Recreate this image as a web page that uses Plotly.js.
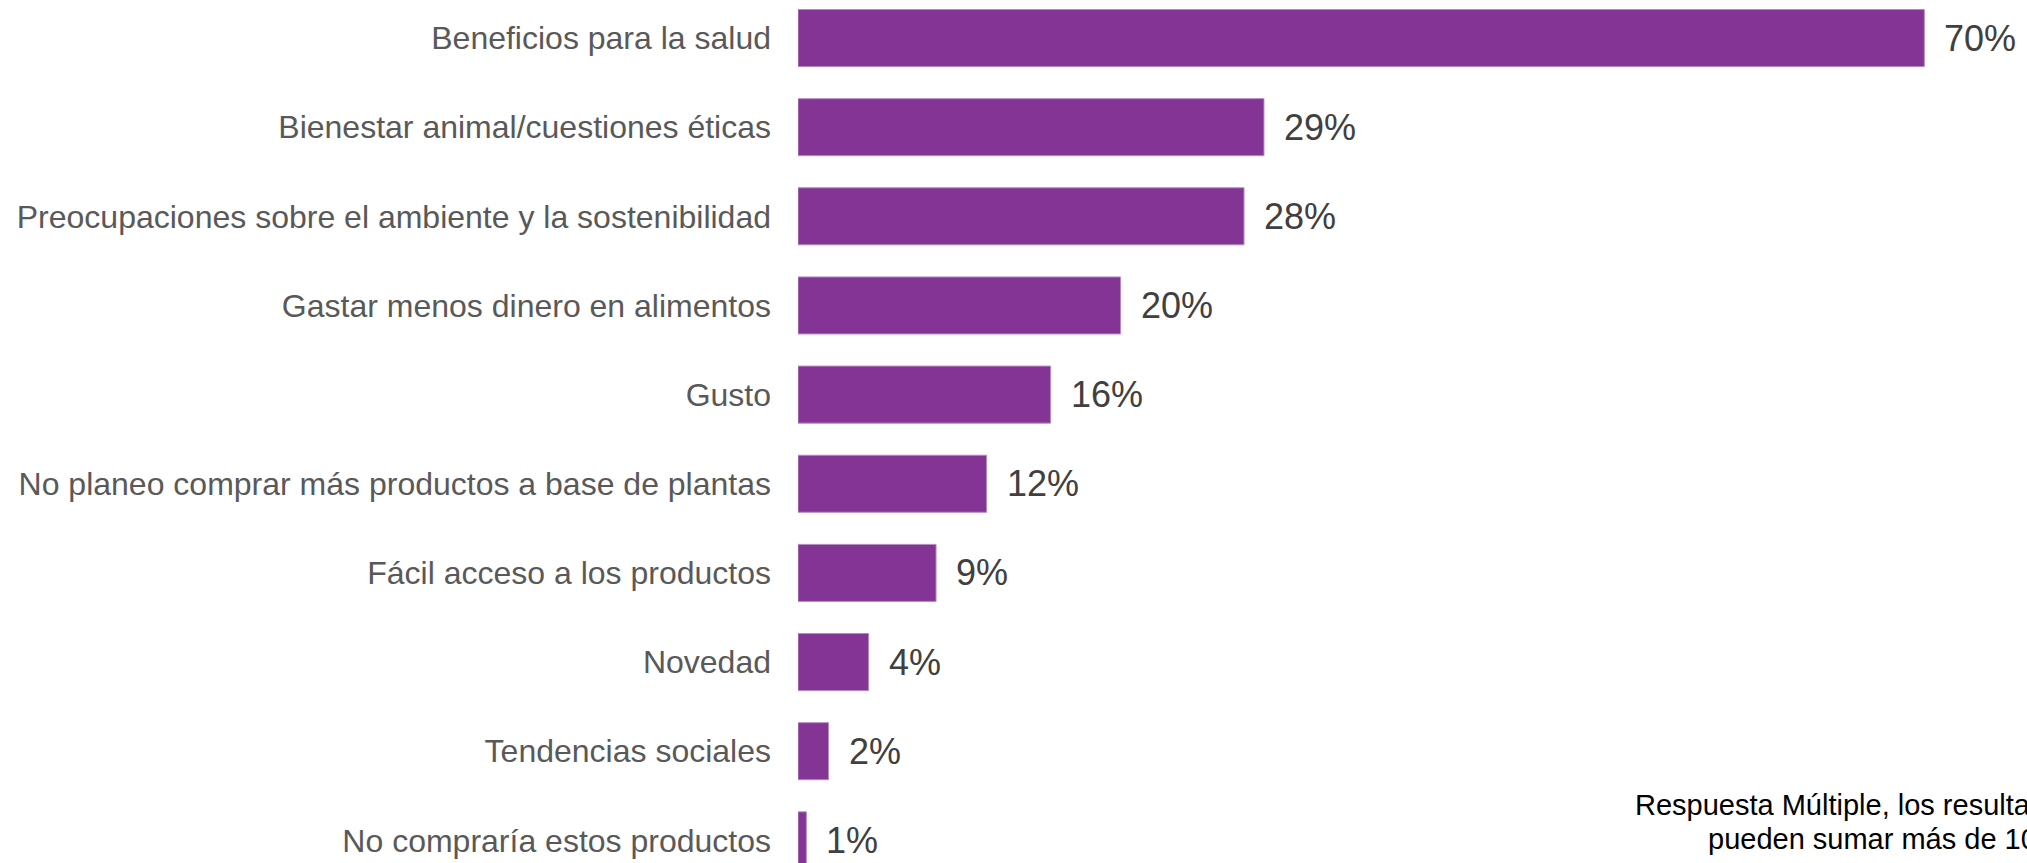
<!DOCTYPE html>
<html>
<head>
<meta charset="utf-8">
<script src="https://cdn.plot.ly/plotly-3.0.1.min.js"></script>
<style>
  html, body { margin: 0; padding: 0; background: #ffffff; }
  #chart { width: 2027px; height: 863px; }
</style>
</head>
<body>
<div id="chart"></div>
<script>
const categories = [
  "Beneficios para la salud",
  "Bienestar animal/cuestiones éticas",
  "Preocupaciones sobre el ambiente y la sostenibilidad",
  "Gastar menos dinero en alimentos",
  "Gusto",
  "No planeo comprar más productos a base de plantas",
  "Fácil acceso a los productos",
  "Novedad",
  "Tendencias sociales",
  "No compraría estos productos"
];
const values = [70, 28.96, 27.72, 20.05, 15.7, 11.72, 8.58, 4.39, 1.9, 0.52];
const valueLabels = ["70%", "29%", "28%", "20%", "16%", "12%", "9%", "4%", "2%", "1%"];
const noteLine1 = "Respuesta Múltiple, los resultados";
const noteLine2 = "pueden sumar más de 100%";

const FONT = "Liberation Sans, Arial, sans-serif";

const trace = {
  type: "bar",
  orientation: "h",
  x: values,
  y: categories,
  marker: { color: "#833495", line: { color: "#b48cc2", width: 1 } },
  hoverinfo: "none"
};

const valueAnnotations = categories.map((c, i) => ({
  x: values[i],
  y: c,
  xref: "x",
  yref: "y",
  text: valueLabels[i],
  showarrow: false,
  xanchor: "left",
  yanchor: "middle",
  xshift: 18,
  font: { family: FONT, size: 36, color: "#404040" }
}));

const noteAnnotations = [
  { x: 0.6794, y: 0.0675, xref: "paper", yref: "paper", text: noteLine1, showarrow: false,
    xanchor: "left", yanchor: "middle", font: { family: FONT, size: 29, color: "#000000" } },
  { x: 0.739, y: 0.028, xref: "paper", yref: "paper", text: noteLine2, showarrow: false,
    xanchor: "left", yanchor: "middle", font: { family: FONT, size: 29, color: "#000000" } }
];

const layout = {
  width: 2027,
  height: 863,
  margin: { l: 798, r: 0, t: 0, b: 0, pad: 0 },
  paper_bgcolor: "#ffffff",
  plot_bgcolor: "#ffffff",
  bargap: 0.36,
  showlegend: false,
  xaxis: { visible: false, range: [0, 76.38], showgrid: false, zeroline: false },
  yaxis: {
    type: "category",
    range: [9.254, -0.4263],
    showgrid: false,
    zeroline: false,
    showline: false,
    ticks: "",
    ticklabelstandoff: 26,
    tickfont: { family: FONT, size: 32, color: "#595959" },
    automargin: false
  },
  annotations: valueAnnotations.concat(noteAnnotations)
};

Plotly.newPlot("chart", [trace], layout, { displayModeBar: false, staticPlot: true });
</script>
</body>
</html>
